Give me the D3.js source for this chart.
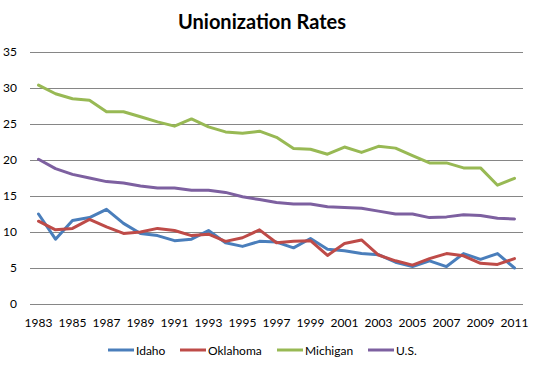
<!DOCTYPE html>
<html><head><meta charset="utf-8">
<script src="https://cdn.jsdelivr.net/npm/d3@7"></script>
<style>
html,body{margin:0;padding:0;background:#fff;}
svg{display:block;font-family:Lato,"Open Sans",sans-serif;}
</style></head>
<body>
<script>
const years = [1983,1984,1985,1986,1987,1988,1989,1990,1991,1992,1993,1994,1995,1996,1997,1998,1999,2000,2001,2002,2003,2004,2005,2006,2007,2008,2009,2010,2011];
const idaho = [12.5,9.0,11.6,12.0,13.15,11.2,9.8,9.5,8.8,9.0,10.2,8.5,8.0,8.7,8.6,7.8,9.1,7.6,7.4,7.0,6.85,5.8,5.2,6.0,5.2,7.0,6.2,7.0,5.0];
const oklahoma = [11.5,10.3,10.5,11.75,10.7,9.8,10.0,10.5,10.2,9.5,9.7,8.7,9.2,10.3,8.5,8.7,8.8,6.75,8.4,8.9,6.8,6.0,5.4,6.3,7.0,6.7,5.65,5.5,6.3];
const michigan = [30.4,29.2,28.5,28.3,26.7,26.7,26.0,25.3,24.7,25.7,24.6,23.9,23.7,24.0,23.15,21.6,21.5,20.8,21.8,21.05,21.9,21.65,20.6,19.6,19.6,18.9,18.9,16.5,17.45];
const us = [20.1,18.8,18.0,17.5,17.0,16.8,16.4,16.1,16.1,15.8,15.8,15.5,14.9,14.5,14.1,13.9,13.9,13.5,13.4,13.3,12.9,12.5,12.5,12.0,12.1,12.4,12.3,11.9,11.8];
const seriesNames = ["Idaho","Oklahoma","Michigan","U.S."];
const seriesColors = ["#4A7EBB","#BE4B48","#98B954","#7D60A0"];
const yTicks = [0,5,10,15,20,25,30,35];
const xTickYears = years.filter((d,i)=>i%2===0);
const title = "Unionization Rates";

(function(){
const W=535,H=370;
const svg=d3.select("body").append("svg").attr("width",W).attr("height",H);
const pl=30,pr=523,pt=52,pb=304;

const x=d3.scaleBand().domain(years).range([pl,pr]);
const y=d3.scaleLinear().domain([0,35]).range([pb,pt]);

svg.append("text").attr("x",262).attr("y",29).attr("text-anchor","middle")
  .attr("font-size",20).attr("font-weight","bold").attr("fill","#000").text(title);

const yAxis=d3.axisLeft(y).tickValues(yTicks).tickSize(-(pr-pl)).tickPadding(13);
const gy=svg.append("g").attr("transform",`translate(${pl},0)`).call(yAxis);
gy.select(".domain").remove();
gy.selectAll(".tick line").attr("stroke","#868686").attr("stroke-width",1);
gy.selectAll(".tick text").attr("font-size",12).attr("fill","#000").attr("font-family","Lato,sans-serif");

const xAxis=d3.axisBottom(x).tickValues(xTickYears).tickSize(0).tickPadding(14);
const gx=svg.append("g").attr("transform",`translate(0,${pb})`).call(xAxis);
gx.select(".domain").remove();
gx.selectAll(".tick text").attr("font-size",12).attr("fill","#000").attr("font-family","Lato,sans-serif");

const data=[idaho,oklahoma,michigan,us];
const line=d3.line().x((d,i)=>x(years[i])+x.bandwidth()/2).y(d=>y(d));
data.forEach((s,k)=>{
  svg.append("path").datum(s).attr("d",line).attr("fill","none")
    .attr("stroke",seriesColors[k]).attr("stroke-width",3).attr("stroke-linejoin","round").attr("stroke-linecap","round");
});

const legX=[108,180,277,368];
seriesNames.forEach((n,k)=>{
  const g=svg.append("g").attr("transform",`translate(${legX[k]},350)`);
  g.append("line").attr("x1",0).attr("x2",26).attr("y1",0).attr("y2",0)
    .attr("stroke",seriesColors[k]).attr("stroke-width",3);
  g.append("text").attr("x",28).attr("y",4.5).attr("font-size",12).attr("fill","#000").text(n);
});
})();
</script>
</body></html>
